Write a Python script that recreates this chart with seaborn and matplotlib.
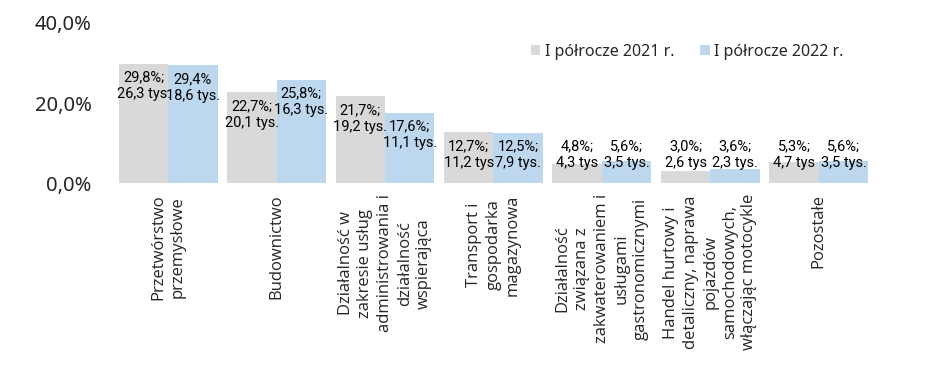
import pandas as pd
import matplotlib.pyplot as plt
import seaborn as sns

# --- data ---
categories = [
    "Przetwórstwo\nprzemysłowe",
    "Budownictwo",
    "Działalność w\nzakresie usług\nadministrowania i\ndziałalność\nwspierająca",
    "Transport i\ngospodarka\nmagazynowa",
    "Działalność\nzwiązana z\nzakwaterowaniem i\nusługami\ngastronomicznymi",
    "Handel hurtowy i\ndetaliczny, naprawa\npojazdów\nsamochodowych,\nwłączając motocykle",
    "Pozostałe",
]
series = ["I półrocze 2021 r.", "I półrocze 2022 r."]
share_2021 = [29.8, 22.7, 21.7, 12.7, 4.8, 3.0, 5.3]
share_2022 = [29.4, 25.8, 17.6, 12.5, 5.6, 3.6, 5.6]
labels_2021 = ["29,8%;\n26,3 tys.", "22,7%;\n20,1 tys.", "21,7%;\n19,2 tys.",
               "12,7%;\n11,2 tys", "4,8%;\n4,3 tys", "3,0%;\n2,6 tys", "5,3%;\n4,7 tys"]
labels_2022 = ["29,4%\n18,6 tys.", "25,8%;\n16,3 tys.", "17,6%;\n11,1 tys.",
               "12,5%;\n7,9 tys.", "5,6%;\n3,5 tys.", "3,6%;\n2,3 tys.", "5,6%;\n3,5 tys."]

df = pd.DataFrame({
    "category": categories * 2,
    "period": [series[0]] * len(categories) + [series[1]] * len(categories),
    "value": share_2021 + share_2022,
})

sns.set_style("white")
plt.rcParams['font.family'] = ['Noto Sans', 'DejaVu Sans']

fig = plt.figure(figsize=(9.3, 3.76), dpi=100)
ax = fig.add_axes([0.1226, 0.513, 0.816, 0.426])

sns.barplot(data=df, x="category", y="value", hue="period",
            palette=["#d9d9d9", "#bdd7ee"], width=0.912, saturation=1,
            linewidth=0, ax=ax, legend=True)

# data labels (Excel-like: inside end, pushed up for small bars)
for container, labels in zip(ax.containers, [labels_2021, labels_2022]):
    for bar, txt in zip(container, labels):
        v = bar.get_height()
        y = max(v - 5.5, 7.2)
        ax.text(bar.get_x() + bar.get_width() / 2, y, txt,
                ha="center", va="center", fontsize=10.5, color="black",
                linespacing=1.25, family=["Roboto", "DejaVu Sans"])

ax.set_ylim(0, 40)
ax.set_xlim(-0.5, len(categories) - 0.5)
ax.set_yticks([0, 20, 40])
ax.set_yticklabels(["0,0%", "20,0%", "40,0%"], fontsize=14.5)
ax.tick_params(axis="y", length=0, pad=16)
ax.tick_params(axis="x", length=0, pad=8)
ax.set_xticks(range(len(categories)))
ax.set_xticklabels(categories, rotation=90, fontsize=12, ha="center", va="top",
                   family=["Open Sans", "DejaVu Sans"], linespacing=1.3)
ax.set_xlabel("")
ax.set_ylabel("")
for s in ax.spines.values():
    s.set_visible(False)

ax.legend(loc="center left", bbox_to_anchor=(0.53, 0.82), ncol=2, frameon=False,
          fontsize=11.5, handlelength=0.6, handleheight=0.6, handletextpad=0.3,
          columnspacing=1.6)

fig.savefig("out.png", dpi=100)
